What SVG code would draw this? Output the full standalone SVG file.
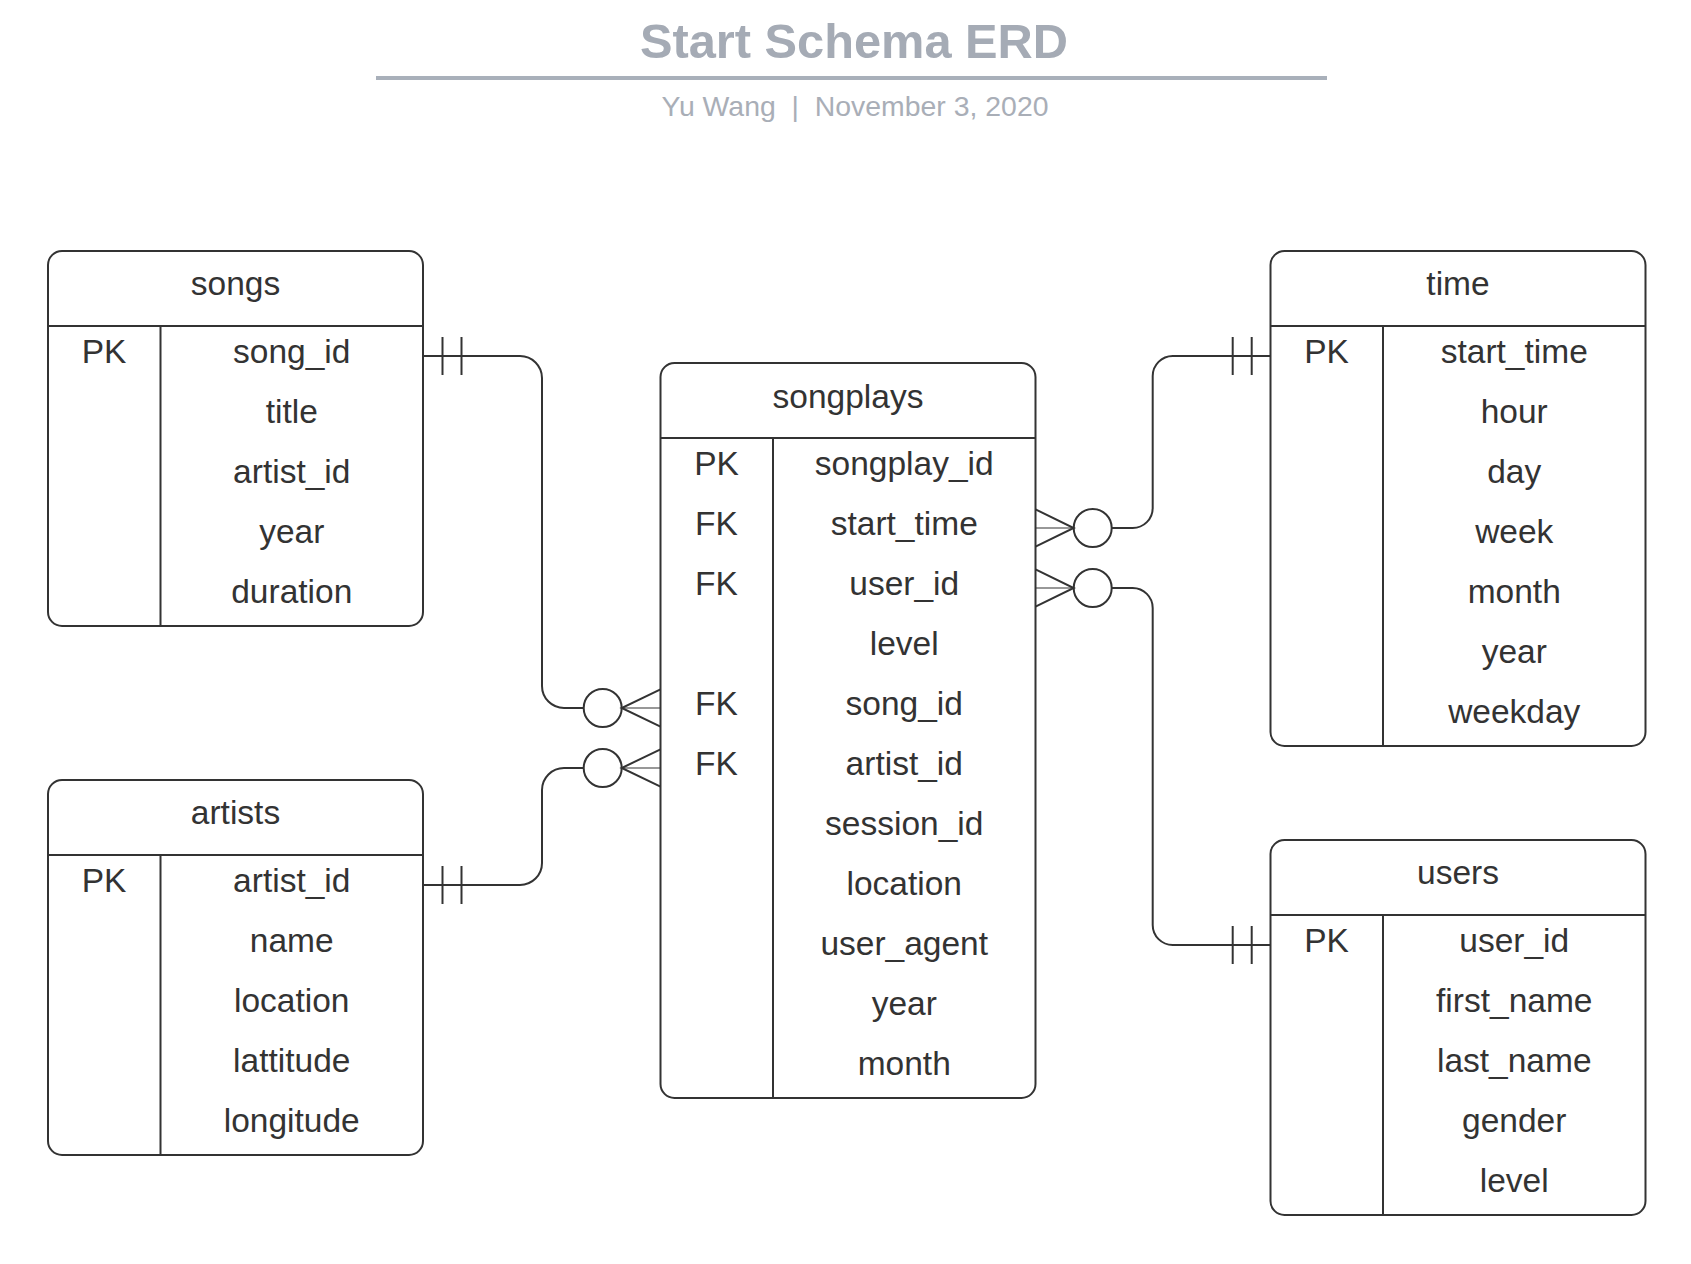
<svg xmlns="http://www.w3.org/2000/svg" width="1691" height="1264" viewBox="0 0 1691 1264">
<style>
.box{fill:#ffffff;stroke:#333333;stroke-width:2}
.ln{stroke:#333333;stroke-width:2;fill:none}
.thin{stroke:#333333;stroke-width:1.2;fill:none}
.t{font-family:"Liberation Sans",Arial,sans-serif;font-size:33.5px;fill:#333333;text-anchor:middle}
.title{font-family:"Liberation Sans",Arial,sans-serif;font-size:48px;font-weight:bold;fill:#a5abb5;text-anchor:middle}
.sub{font-family:"Liberation Sans",Arial,sans-serif;font-size:28.3px;fill:#a9aeb7;text-anchor:middle}
.circ{fill:#ffffff;stroke:#333333;stroke-width:2}
</style>
<rect width="1691" height="1264" fill="#ffffff"/>
<g id="header">
<text class="title" x="854" y="58" textLength="428" lengthAdjust="spacingAndGlyphs">Start Schema ERD</text>
<line x1="376" y1="78" x2="1327" y2="78" stroke="#a9b0ba" stroke-width="4"/>
<text class="sub" x="855" y="116" xml:space="preserve" textLength="387" lengthAdjust="spacingAndGlyphs">Yu Wang  |  November 3, 2020</text>
</g>
<g id="connectors">
<path class="ln" d="M423 356 H520 A22 22 0 0 1 542 378 V686 A22 22 0 0 0 564 708 H583.7"/>
<line class="ln" x1="442.5" y1="337" x2="442.5" y2="375"/>
<line class="ln" x1="461.5" y1="337" x2="461.5" y2="375"/>
<circle class="circ" cx="602.7" cy="708" r="19"/>
<path class="ln" d="M660.5 689.3 L621.7 708 L660.5 726.7"/>
<line class="thin" x1="621.7" y1="708" x2="660.5" y2="708"/>
<path class="ln" d="M423 885 H520 A22 22 0 0 0 542 863 V790 A22 22 0 0 1 564 768 H583.7"/>
<line class="ln" x1="442.5" y1="866" x2="442.5" y2="904"/>
<line class="ln" x1="461.5" y1="866" x2="461.5" y2="904"/>
<circle class="circ" cx="602.7" cy="768" r="19"/>
<path class="ln" d="M660.5 749.3 L621.7 768 L660.5 786.7"/>
<line class="thin" x1="621.7" y1="768" x2="660.5" y2="768"/>
<path class="ln" d="M1111.7 528 H1132.7 A20 20 0 0 0 1152.7 508 V376 A20 20 0 0 1 1172.7 356 H1270.5"/>
<line class="ln" x1="1232.7" y1="337" x2="1232.7" y2="375"/>
<line class="ln" x1="1251.7" y1="337" x2="1251.7" y2="375"/>
<circle class="circ" cx="1092.7" cy="528" r="19"/>
<path class="ln" d="M1035.5 509.3 L1073.7 528 L1035.5 546.7"/>
<line class="thin" x1="1035.5" y1="528" x2="1073.7" y2="528"/>
<path class="ln" d="M1111.7 588 H1132.7 A20 20 0 0 1 1152.7 608 V925 A20 20 0 0 0 1172.7 945 H1270.5"/>
<line class="ln" x1="1232.7" y1="926" x2="1232.7" y2="964"/>
<line class="ln" x1="1251.7" y1="926" x2="1251.7" y2="964"/>
<circle class="circ" cx="1092.7" cy="588" r="19"/>
<path class="ln" d="M1035.5 569.3 L1073.7 588 L1035.5 606.7"/>
<line class="thin" x1="1035.5" y1="588" x2="1073.7" y2="588"/>
</g>
<g id="songs">
<rect class="box" x="48" y="251" width="375" height="375" rx="14"/>
<line class="ln" x1="48" y1="326" x2="423" y2="326"/>
<line class="ln" x1="160.5" y1="326" x2="160.5" y2="626"/>
<text class="t" x="235.5" y="295">songs</text>
<text class="t" x="104" y="363">PK</text>
<text class="t" x="291.75" y="363">song_id</text>
<text class="t" x="291.75" y="423">title</text>
<text class="t" x="291.75" y="483">artist_id</text>
<text class="t" x="291.75" y="543">year</text>
<text class="t" x="291.75" y="603">duration</text>
</g>
<g id="artists">
<rect class="box" x="48" y="780" width="375" height="375" rx="14"/>
<line class="ln" x1="48" y1="855" x2="423" y2="855"/>
<line class="ln" x1="160.5" y1="855" x2="160.5" y2="1155"/>
<text class="t" x="235.5" y="824">artists</text>
<text class="t" x="104" y="892">PK</text>
<text class="t" x="291.75" y="892">artist_id</text>
<text class="t" x="291.75" y="952">name</text>
<text class="t" x="291.75" y="1012">location</text>
<text class="t" x="291.75" y="1072">lattitude</text>
<text class="t" x="291.75" y="1132">longitude</text>
</g>
<g id="songplays">
<rect class="box" x="660.5" y="363" width="375" height="735" rx="14"/>
<line class="ln" x1="660.5" y1="438" x2="1035.5" y2="438"/>
<line class="ln" x1="773" y1="438" x2="773" y2="1098"/>
<text class="t" x="848" y="408">songplays</text>
<text class="t" x="716.5" y="475">PK</text>
<text class="t" x="904.25" y="475">songplay_id</text>
<text class="t" x="716.5" y="535">FK</text>
<text class="t" x="904.25" y="535">start_time</text>
<text class="t" x="716.5" y="595">FK</text>
<text class="t" x="904.25" y="595">user_id</text>
<text class="t" x="904.25" y="655">level</text>
<text class="t" x="716.5" y="715">FK</text>
<text class="t" x="904.25" y="715">song_id</text>
<text class="t" x="716.5" y="775">FK</text>
<text class="t" x="904.25" y="775">artist_id</text>
<text class="t" x="904.25" y="835">session_id</text>
<text class="t" x="904.25" y="895">location</text>
<text class="t" x="904.25" y="955">user_agent</text>
<text class="t" x="904.25" y="1015">year</text>
<text class="t" x="904.25" y="1075">month</text>
</g>
<g id="time">
<rect class="box" x="1270.5" y="251" width="375" height="495" rx="14"/>
<line class="ln" x1="1270.5" y1="326" x2="1645.5" y2="326"/>
<line class="ln" x1="1383" y1="326" x2="1383" y2="746"/>
<text class="t" x="1458" y="295">time</text>
<text class="t" x="1326.5" y="363">PK</text>
<text class="t" x="1514.25" y="363">start_time</text>
<text class="t" x="1514.25" y="423">hour</text>
<text class="t" x="1514.25" y="483">day</text>
<text class="t" x="1514.25" y="543">week</text>
<text class="t" x="1514.25" y="603">month</text>
<text class="t" x="1514.25" y="663">year</text>
<text class="t" x="1514.25" y="723">weekday</text>
</g>
<g id="users">
<rect class="box" x="1270.5" y="840" width="375" height="375" rx="14"/>
<line class="ln" x1="1270.5" y1="915" x2="1645.5" y2="915"/>
<line class="ln" x1="1383" y1="915" x2="1383" y2="1215"/>
<text class="t" x="1458" y="884">users</text>
<text class="t" x="1326.5" y="952">PK</text>
<text class="t" x="1514.25" y="952">user_id</text>
<text class="t" x="1514.25" y="1012">first_name</text>
<text class="t" x="1514.25" y="1072">last_name</text>
<text class="t" x="1514.25" y="1132">gender</text>
<text class="t" x="1514.25" y="1192">level</text>
</g>
</svg>
